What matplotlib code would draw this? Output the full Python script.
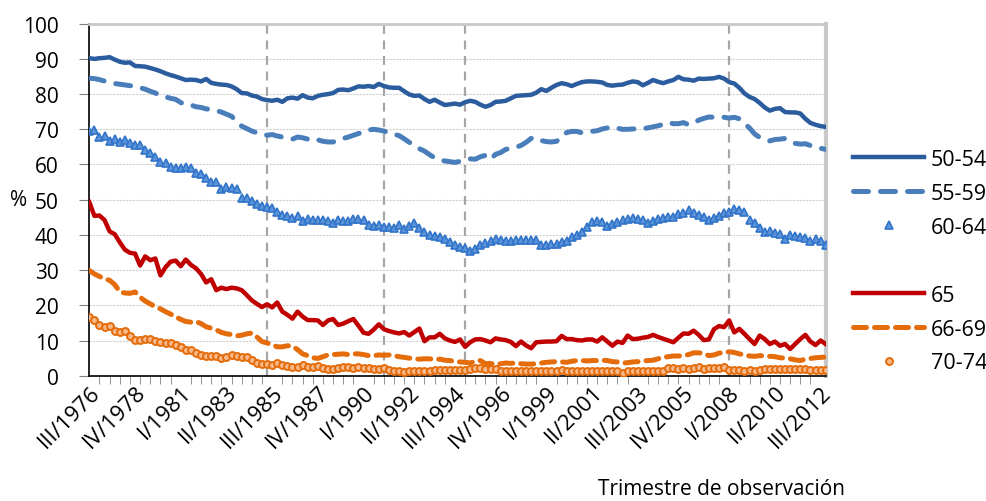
import numpy as np
import matplotlib
matplotlib.use("Agg")
import matplotlib.pyplot as plt
from matplotlib.lines import Line2D

plt.rcParams["font.family"] = ["Open Sans", "DejaVu Sans"]

# -----------------------------
# Data (quarterly, III/1976 .. IV/2012)
# -----------------------------
s50_54 = [
    90.2, 90.0, 90.2, 90.3, 90.5, 89.8, 89.2, 88.9, 89.0, 88.0,
    87.9, 87.8, 87.4, 87.0, 86.5, 85.9, 85.4, 85.0, 84.5, 84.0,
    84.1, 84.0, 83.6, 84.3, 83.2, 82.9, 82.7, 82.6, 82.2, 81.4,
    80.3, 80.2, 79.6, 79.3, 78.6, 78.3, 78.1, 78.4, 77.8, 78.8,
    79.0, 78.7, 79.7, 79.0, 78.8, 79.5, 79.8, 80.0, 80.3, 81.2,
    81.3, 81.1, 81.6, 82.2, 82.1, 82.3, 82.0, 82.9, 82.3, 81.9,
    81.8, 81.8, 80.8, 79.9, 79.5, 79.6, 78.6, 77.8, 78.4, 77.6,
    76.9, 77.1, 77.3, 77.0, 77.7, 78.1, 77.8, 77.0, 76.4, 76.9,
    77.8, 77.9, 78.1, 78.8, 79.5, 79.6, 79.7, 79.8, 80.4, 81.4,
    80.9, 81.8, 82.6, 83.1, 82.8, 82.3, 82.9, 83.4, 83.6, 83.6,
    83.5, 83.3, 82.6, 82.4, 82.6, 82.7, 83.2, 83.6, 83.4, 82.5,
    83.2, 84.0, 83.5, 83.1, 83.6, 84.0, 84.9, 84.2, 84.1, 83.8,
    84.4, 84.3, 84.4, 84.5, 84.9, 84.4, 83.4, 83.0, 81.8, 80.2,
    79.2, 78.6, 77.5, 76.2, 75.3, 75.8, 76.0, 74.9, 74.8, 74.8,
    74.5, 73.0, 71.8, 71.3, 70.9, 70.7,
]
s55_59 = [
    84.5, 84.4, 84.1, 83.7, 83.3, 83.0, 82.8, 82.6, 82.4, 82.1,
    81.8, 81.4, 80.8, 80.3, 79.6, 79.2, 78.8, 78.5, 77.6, 77.0,
    76.9, 76.4, 76.2, 75.8, 75.6, 75.3, 74.9, 74.3, 73.7, 72.3,
    70.9, 70.2, 69.5, 69.0, 68.8, 68.3, 68.5, 68.1, 67.8, 67.4,
    67.2, 67.8, 67.6, 67.2, 67.5, 67.0, 66.6, 66.4, 66.4, 66.9,
    67.4, 67.8, 68.3, 68.8, 69.2, 69.8, 70.0, 69.8, 69.5, 69.0,
    68.6, 68.2, 67.3, 66.3, 65.5, 64.5, 63.8, 62.8, 61.9, 61.3,
    61.0, 60.8, 60.6, 60.9, 61.3, 61.6, 61.5, 62.2, 62.6, 61.5,
    62.9, 63.4, 64.3, 64.6, 64.9, 65.4, 66.3, 67.4, 67.6, 66.8,
    66.5, 66.4, 66.6, 67.7, 69.1, 69.4, 69.4, 69.0, 69.2, 69.4,
    69.6, 70.1, 70.4, 70.6, 70.3, 70.0, 70.0, 70.1, 70.1, 70.2,
    70.4, 70.7, 71.0, 71.4, 71.9, 71.6, 71.6, 71.9, 71.3, 71.8,
    72.6, 73.1, 73.5, 73.4, 73.3, 73.4, 73.2, 73.4, 73.0, 71.6,
    70.4, 68.7, 67.7, 67.3, 66.7, 67.1, 67.2, 67.4, 66.8, 66.0,
    65.8, 65.9, 65.4, 65.0, 64.6, 64.3,
]
s60_64 = [
    69.4, 69.9, 67.8, 68.2, 66.8, 67.3, 66.3, 67.0, 66.1, 65.5,
    65.5, 64.2, 63.2, 62.0, 60.8, 60.4, 59.2, 59.1, 59.1, 59.2,
    59.1, 57.6, 57.3, 56.1, 55.1, 55.0, 53.1, 53.5, 53.3, 53.0,
    50.5, 50.4, 49.6, 48.9, 48.2, 47.9, 47.5, 46.5, 45.7, 45.3,
    44.8, 45.3, 44.0, 44.4, 44.3, 44.3, 44.2, 43.9, 43.5, 44.3,
    43.9, 43.9, 44.6, 44.4, 44.3, 42.8, 42.6, 42.7, 42.3, 42.2,
    42.0, 42.8, 41.6, 42.6, 43.4, 42.0, 40.7, 40.0, 39.7, 39.4,
    38.8, 38.0, 37.2, 36.6, 36.4, 35.3, 36.0, 37.1, 37.6, 38.2,
    38.8, 38.5, 38.3, 38.4, 38.6, 38.5, 38.6, 38.5, 38.5, 37.0,
    37.0, 37.4, 37.5, 37.9, 38.2, 39.4, 40.0, 40.8, 42.2, 43.7,
    43.9, 43.7, 42.5, 43.2, 43.7, 44.3, 44.6, 44.8, 44.4, 44.2,
    43.3, 43.9, 44.5, 44.8, 45.0, 45.1, 45.8, 46.1, 47.0, 46.1,
    45.7, 45.0, 44.3, 44.8, 45.5, 46.2, 46.5, 47.3, 47.1, 46.5,
    44.3, 43.5, 41.9, 40.9, 41.0, 40.4, 40.3, 38.9, 40.1, 39.7,
    39.5, 39.2, 38.3, 38.9, 38.4, 37.2,
]
s65 = [
    49.3, 45.4, 45.5, 44.2, 41.0, 40.2, 37.9, 35.8, 34.9, 34.7,
    31.3, 33.9, 32.8, 33.3, 28.5, 30.8, 32.4, 32.7, 31.1, 33.0,
    31.5, 30.5, 28.9, 26.5, 27.4, 24.3, 25.0, 24.6, 25.0, 24.8,
    24.3, 22.9, 21.4, 20.4, 19.5, 20.3, 19.4, 20.8, 18.2, 17.3,
    16.2, 18.2, 16.8, 15.8, 15.8, 15.7, 14.4, 15.7, 16.1, 14.4,
    14.8, 15.5, 16.1, 14.2, 12.2, 11.9, 13.1, 14.6, 13.2, 12.7,
    12.3, 12.0, 12.4, 11.4, 12.4, 13.4, 9.8, 10.9, 10.9, 11.9,
    10.6, 10.0, 9.6, 10.3, 8.2, 9.5, 10.3, 10.4, 10.0, 9.5,
    10.6, 10.3, 10.1, 9.6, 8.4, 9.7, 8.6, 7.8, 9.5, 9.6,
    9.7, 9.7, 9.8, 11.3, 10.4, 10.4, 10.1, 10.0, 10.3, 10.3,
    9.7, 10.9, 9.7, 8.5, 9.7, 9.3, 11.4, 10.4, 10.5, 10.8,
    11.0, 11.6, 11.0, 10.5, 10.0, 9.5, 10.8, 12.0, 11.9, 12.8,
    11.6, 10.1, 10.3, 13.2, 14.1, 13.8, 15.7, 12.3, 13.3, 11.9,
    10.4, 9.0, 11.4, 10.4, 9.0, 9.7, 8.5, 9.0, 7.6, 9.0,
    10.4, 11.6, 9.7, 8.7, 10.0, 9.0,
]
s66_69 = [
    29.9, 28.9, 28.2, 27.5, 27.1, 25.9, 23.8, 23.5, 23.4, 23.8,
    22.3, 21.2, 20.4, 19.6, 19.0, 18.2, 17.5, 16.7, 16.0, 15.4,
    15.2, 15.4, 14.8, 13.9, 13.5, 13.0, 12.3, 11.9, 11.7, 11.3,
    11.5, 11.9, 12.1, 11.0, 9.7, 9.3, 8.8, 8.2, 8.2, 8.5,
    8.4, 7.4, 6.2, 5.7, 5.1, 4.9, 5.4, 5.9, 6.0, 6.1,
    6.2, 6.0, 6.2, 6.2, 6.0, 5.7, 5.7, 5.9, 5.8, 5.9,
    5.7, 5.4, 5.2, 5.0, 4.8, 4.7, 4.8, 4.8, 4.6, 4.7,
    4.4, 4.3, 4.0, 3.9, 3.8, 3.6, 4.1, 4.3, 3.4, 3.5,
    3.1, 3.4, 3.6, 3.5, 3.6, 3.4, 3.3, 3.3, 3.4, 3.6,
    3.8, 3.9, 4.0, 3.9, 3.8, 4.1, 4.3, 4.3, 4.2, 4.3,
    4.3, 4.4, 4.3, 4.0, 3.9, 3.6, 3.7, 3.9, 4.0, 4.2,
    4.3, 4.4, 4.8, 5.2, 5.4, 5.6, 5.6, 5.7, 6.0, 6.5,
    6.5, 6.3, 5.7, 5.9, 6.4, 6.6, 6.8, 6.6, 6.2, 5.9,
    5.6, 5.5, 5.7, 5.6, 5.5, 5.4, 5.1, 5.0, 4.8, 4.5,
    4.3, 4.7, 4.9, 5.1, 5.2, 5.3,
]
s70_74 = [
    16.8, 15.7, 14.3, 13.9, 14.2, 12.6, 12.5, 12.6, 11.4, 10.2,
    10.1, 10.5, 10.3, 10.0, 9.5, 9.4, 9.3, 8.8, 8.1, 7.4,
    7.4, 6.5, 5.8, 5.5, 5.5, 5.7, 5.1, 5.3, 5.9, 5.5,
    5.3, 5.2, 4.5, 3.7, 3.4, 3.3, 3.1, 3.5, 3.1, 2.8,
    2.5, 2.6, 3.0, 2.5, 2.5, 2.7, 2.2, 2.0, 2.0, 2.1,
    2.4, 2.4, 2.3, 2.4, 2.3, 2.1, 2.0, 2.0, 2.2, 1.6,
    1.3, 1.3, 1.1, 1.2, 1.3, 1.3, 1.4, 1.4, 1.6, 1.6,
    1.5, 1.6, 1.6, 1.5, 1.5, 2.0, 2.1, 2.1, 2.0, 2.0,
    1.8, 1.4, 1.3, 1.3, 1.3, 1.4, 1.3, 1.3, 1.4, 1.3,
    1.4, 1.3, 1.3, 1.5, 1.3, 1.3, 1.2, 1.3, 1.3, 1.2,
    1.3, 1.3, 1.2, 1.3, 1.2, 0.8, 1.3, 1.3, 1.3, 1.3,
    1.4, 1.3, 1.3, 1.4, 2.1, 2.1, 2.0, 2.2, 2.0, 2.2,
    2.4, 2.0, 2.1, 2.2, 2.2, 2.5, 1.5, 1.6, 1.5, 1.4,
    1.5, 1.4, 1.5, 1.8, 1.9, 1.9, 1.8, 1.9, 1.9, 1.8,
    1.8, 1.8, 1.7, 1.6, 1.6, 1.5,
]

tick_labels = ["III/1976", "IV/1978", "I/1981", "II/1983", "III/1985",
               "IV/1987", "I/1990", "II/1992", "III/1994", "IV/1996",
               "I/1999", "II/2001", "III/2003", "IV/2005", "I/2008",
               "II/2010", "III/2012"]
marker_quarters = ["II/1985", "I/1991", "I/1995", "I/2008"]

# quarter names for each observation
roman = ["I", "II", "III", "IV"]
quarters = []
year, q = 1976, 2
for _ in range(len(s50_54)):
    quarters.append(f"{roman[q]}/{year}")
    q += 1
    if q == 4:
        q, year = 0, year + 1

x = np.arange(len(s50_54))

# -----------------------------
# Plot
# -----------------------------
fig = plt.figure(figsize=(9.86, 5.02), dpi=100)
ax = fig.add_axes([0.0906, 0.2496, 0.7468, 0.7012])

for qlab in marker_quarters:
    ax.axvline(quarters.index(qlab), color="#A6A6A6", lw=1.6,
               ls=(0, (4, 3)), zorder=1)

ax.plot(x, s50_54, color="#2B5C9E", lw=3.2, label="50-54", zorder=3)
ax.plot(x, s55_59, color="#4A7EBB", lw=3.6, ls=(0, (3.0, 2.4)),
        dash_capstyle="round", label="55-59", zorder=3)
ax.plot(x, s60_64, ls="none", marker="^", ms=5.5, color="#3B7DD0",
        mfc="#5C94DA", mec="#3174CA", mew=1.2, label="60-64", zorder=3)
ax.plot(x, s65, color="#C00000", lw=3.2, label="65", zorder=3)
ax.plot(x, s66_69, color="#E46C0A", lw=3.6, ls=(0, (2.6, 1.6)),
        dash_capstyle="round", label="66-69", zorder=3)
ax.plot(x, s70_74, ls="none", marker="o", ms=5, mfc="#F7B88A",
        mec="#E46C0A", mew=1.4, label="70-74", zorder=3)

ax.set_xlim(0, len(x) - 1)
ax.set_ylim(0, 100)
ax.set_yticks(np.arange(0, 101, 10))
ax.yaxis.grid(True, color="#D0D0D0", lw=0.8, ls=(0, (2, 1)))
ax.set_axisbelow(True)

ax.set_xticks(np.arange(0, len(x), 9))
ax.set_xticklabels(tick_labels, rotation=45, ha="right", va="top",
                   rotation_mode="anchor")
ax.set_xticks(np.arange(0, len(x), 2), minor=True)
ax.tick_params(axis="x", which="major", length=0, labelsize=16, pad=4)
ax.tick_params(axis="x", which="minor", length=6, color="#808080")
ax.tick_params(axis="y", length=7, labelsize=15, pad=15, color="#808080")

for side in ["left", "bottom"]:
    ax.spines[side].set_color("black")
    ax.spines[side].set_linewidth(1.2)
ax.spines["top"].set_color("#C8C8C8")
ax.spines["top"].set_linewidth(2)
ax.spines["right"].set_color("#C8C8C8")
ax.spines["right"].set_linewidth(3)

fig.text(10 / 986, 1 - 201 / 502, "%", fontsize=15, ha="left", va="center")
fig.text(845 / 986, 1 - 490 / 502, "Trimestre de observación",
         fontsize=15, ha="right", va="center")

handles, labels = ax.get_legend_handles_labels()
blank = Line2D([], [], ls="none", marker="none")
handles = handles[:3] + [blank] + handles[3:]
labels = labels[:3] + [" "] + labels[3:]
fig.legend(handles, labels, loc="upper left",
           bbox_to_anchor=(853 / 986, 1 - 150 / 502), frameon=False,
           fontsize=15.5, handlelength=3.3, handletextpad=0.3,
           labelspacing=0.6, borderaxespad=0, borderpad=0)

fig.savefig("out.png", dpi=100)
